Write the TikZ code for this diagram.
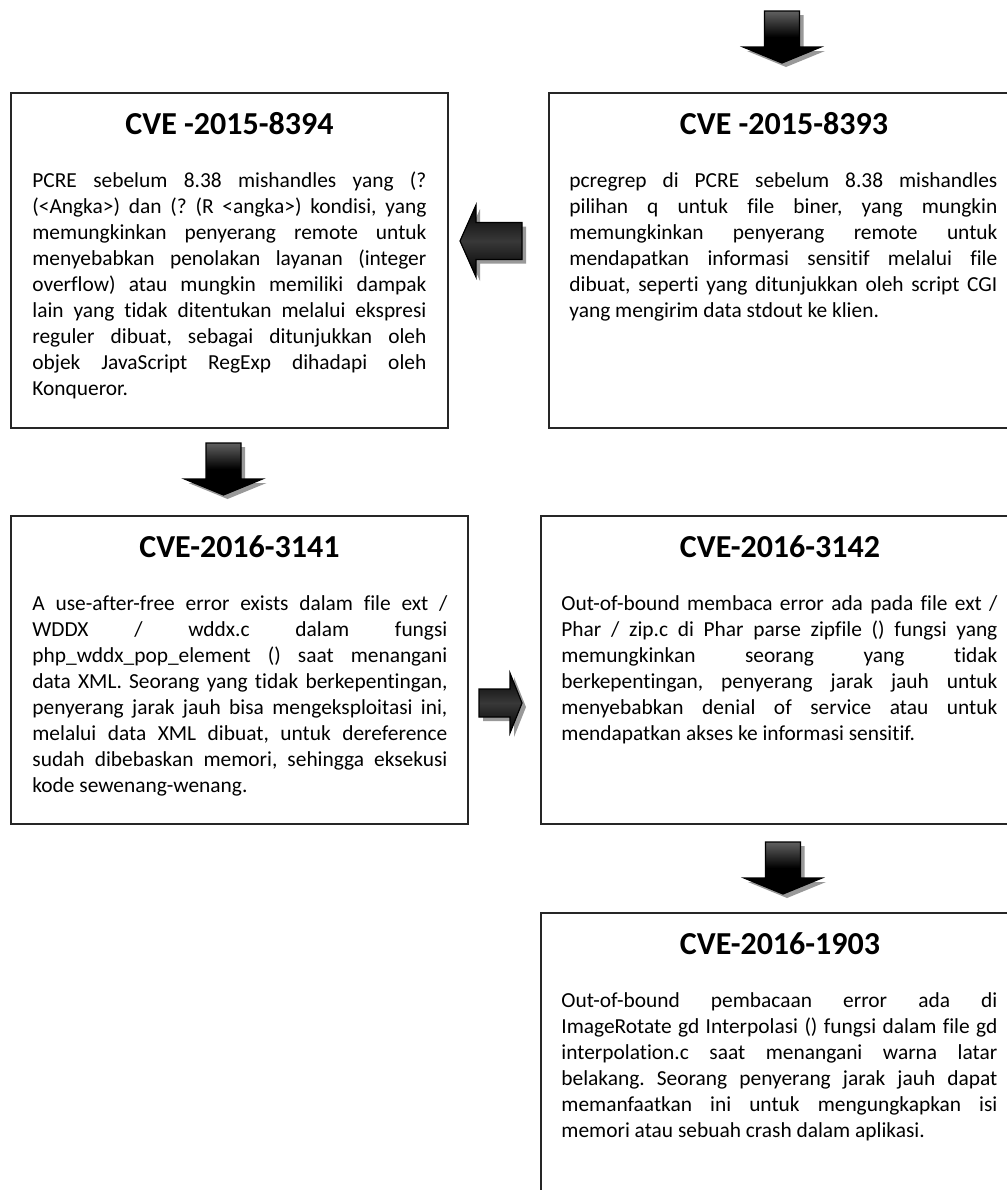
\documentclass[tikz,border=0pt]{standalone}
\usepackage{fontspec}
\setmainfont{Carlito}[Ligatures=NoCommon]
\usepackage{tikz}
\usetikzlibrary{calc}
\usetikzlibrary{shadows}
\frenchspacing

\tikzset{
  cvebox/.style={draw=black!85, line width=1pt, anchor=north west, inner sep=0pt, fill=white},
  cvetitle/.style={anchor=base, inner sep=0pt, font=\bfseries\fontsize{16}{19}\selectfont},
  cvetext/.style={anchor=north west, inner sep=0pt, align=justify,
    font=\fontsize{10.7}{13}\selectfont, execute at begin node={\tolerance=10000\strut}},
  arrowfill/.style={draw=black, line width=0.6pt, line join=miter,
    drop shadow={shadow xshift=2pt, shadow yshift=-2pt, fill=black!40, opacity=1}},
  vfill/.style={arrowfill, top color=black!62, bottom color=black, middle color=black},
  hfill/.style={arrowfill, top color=black, bottom color=black, middle color=black!78}
}

\begin{document}
\begin{tikzpicture}[x=0.5pt,y=-0.5pt]
  \path[use as bounding box, fill=white] (0,0) rectangle (1007,1190);

  \node[cvebox, minimum width=218.5pt, minimum height=167.5pt] (b8394) at (10,92) {};
  \node[cvebox, minimum width=235pt, minimum height=167.5pt] (b8393) at (548,92) {};
  \node[cvebox, minimum width=228.5pt, minimum height=154pt] (b3141) at (10,515) {};
  \node[cvebox, minimum width=239pt, minimum height=154pt] (b3142) at (540,515) {};
  \node[cvebox, minimum width=239pt, minimum height=150pt] (b1903) at (540,912) {};

  \node[cvetitle] (t8394) at ($(b8394.north)+(0,42)$) {CVE -2015-8394};
  \node[cvetitle] (t8393) at ($(b8393.north)+(0,42)$) {CVE -2015-8393};
  \node[cvetitle] (t3141) at ($(b3141.north)+(0,42)$) {CVE-2016-3141};
  \node[cvetitle] (t3142) at ($(b3142.north)+(0,42)$) {CVE-2016-3142};
  \node[cvetitle] (t1903) at ($(b1903.north)+(0,42)$) {CVE-2016-1903};

  \node[cvetext, text width=197pt] (d8394) at ($(b8394.north west)+(22,77)$) {PCRE sebelum 8.38 mishandles yang (?\linebreak
    (<Angka>) dan (? (R <angka>) kondisi, yang\linebreak
    memungkinkan penyerang remote untuk\linebreak
    menyebabkan penolakan layanan (integer\linebreak
    overflow) atau mungkin memiliki dampak\linebreak
    lain yang tidak ditentukan melalui ekspresi\linebreak
    reguler dibuat, sebagai ditunjukkan oleh\linebreak
    objek JavaScript RegExp dihadapi oleh\linebreak
    Konqueror.};
  \node[cvetext, text width=214pt] (d8393) at ($(b8393.north west)+(21,77)$) {pcregrep di PCRE sebelum 8.38 mishandles\linebreak
    pilihan q untuk file biner, yang mungkin\linebreak
    memungkinkan penyerang remote untuk\linebreak
    mendapatkan informasi sensitif melalui file\linebreak
    dibuat, seperti yang ditunjukkan oleh script CGI\linebreak
    yang mengirim data stdout ke klien.};
  \node[cvetext, text width=207.5pt] (d3141) at ($(b3141.north west)+(22,77)$) {A use-after-free error exists dalam file ext /\linebreak
    WDDX / wddx.c dalam fungsi\linebreak
    php\_wddx\_pop\_element () saat menangani\linebreak
    data XML. Seorang yang tidak berkepentingan,\linebreak
    penyerang jarak jauh bisa mengeksploitasi ini,\linebreak
    melalui data XML dibuat, untuk dereference\linebreak
    sudah dibebaskan memori, sehingga eksekusi\linebreak
    kode sewenang-wenang.};
  \node[cvetext, text width=218pt] (d3142) at ($(b3142.north west)+(21,77)$) {Out-of-bound membaca error ada pada file ext /\linebreak
    Phar / zip.c di Phar parse zipfile () fungsi yang\linebreak
    memungkinkan seorang yang tidak\linebreak
    berkepentingan, penyerang jarak jauh untuk\linebreak
    menyebabkan denial of service atau untuk\linebreak
    mendapatkan akses ke informasi sensitif.};
  \node[cvetext, text width=218pt] (d1903) at ($(b1903.north west)+(21,77)$) {Out-of-bound pembacaan error ada di\linebreak
    ImageRotate gd Interpolasi () fungsi dalam file gd\linebreak
    interpolation.c saat menangani warna latar\linebreak
    belakang. Seorang penyerang jarak jauh dapat\linebreak
    memanfaatkan ini untuk mengungkapkan isi\linebreak
    memori atau sebuah crash dalam aplikasi.};

  \coordinate (a0) at ($(b8393.north)+(-2,-55)$);
  \coordinate (a1) at (491,241);
  \coordinate (a2) at ($(b8394.south)+(-6,40)$);
  \coordinate (a3) at (500,703);
  \coordinate (a4) at ($(b3142.south)+(3,43)$);

  \foreach \a in {a0,a2,a4}
    \draw[vfill] (\a) ++(-17.5,-26) -- ++(35,0) -- ++(0,36) -- ++(21.5,0) -- ++(-39,16) -- ++(-39,-16) -- ++(21.5,0) -- cycle;
  \draw[hfill] (a1) ++(31,-18.5) -- ++(-46,0) -- ++(0,-17.5) -- ++(-16,36) -- ++(16,36) -- ++(0,-17.5) -- ++(46,0) -- cycle;
  \draw[hfill] (a3) ++(-21,-14) -- ++(31,0) -- ++(0,-16) -- ++(12,30) -- ++(-12,30) -- ++(0,-16) -- ++(-31,0) -- cycle;
\end{tikzpicture}
\end{document}
